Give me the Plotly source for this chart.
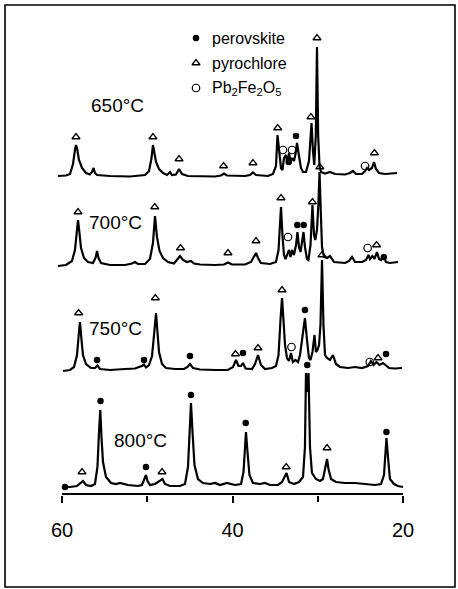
import plotly.graph_objects as go

# ---- diffraction traces: 2-theta (deg) and intensity above each trace's baseline (a.u.) ----
TT_650 = [60.47, 59.53, 59.06, 58.71, 58.48, 58.36, 58.24, 58.01, 57.65, 57.18, 56.72, 56.48, 56.30,
          56.13, 55.89, 54.37, 52.02, 50.26, 49.79, 49.50, 49.33, 49.15, 48.97, 48.62, 48.15, 47.68,
          47.33, 47.10, 46.63, 46.27, 45.92, 45.22, 42.05, 41.35, 41.00, 40.65, 38.53, 37.95, 37.60,
          37.24, 35.84, 35.25, 34.90, 34.72, 34.55, 34.31, 34.14, 33.96, 33.73, 33.55, 33.37, 33.20,
          33.02, 32.79, 32.61, 32.43, 32.20, 31.97, 31.73, 31.38, 31.03, 30.85, 30.73, 30.56, 30.41,
          30.23, 30.09, 29.95, 29.79, 29.62, 29.15, 28.56, 27.98, 26.80, 26.22, 25.87, 25.51, 24.81,
          24.45, 24.22, 23.99, 23.64, 23.40, 23.17, 22.82, 22.11, 21.53, 20.70]
I_650 = [0, 0.5, 2, 12, 26, 31, 28, 16, 8, 3, 1.5, 4, 8,
         3, 1, 0, -0.5, 1, 5, 18, 31, 24, 14, 7, 3, 1,
         4, 1, 1.5, 7, 2, 0, -0.5, 0.5, 2.5, 0.5, 0, 1, 3.5,
         1, 0, 2, 10, 41, 25, 8, 6, 18, 21, 12, 23, 14,
         18, 15, 22, 33, 20, 8, 4, 4, 15, 38, 53, 25, 11,
         40, 129, 40, 10, 4, 2.5, 4, 2, 1.5, 3, 5, 2, 2,
         5, 8, 6, 8, 14, 7, 3, 2, 2.5, 3]

TT_700 = [60.47, 59.53, 58.83, 58.48, 58.24, 58.12, 57.95, 57.77, 57.42, 56.95, 56.36, 56.07, 55.89,
          55.72, 55.43, 54.37, 52.61, 51.79, 51.44, 51.09, 50.26, 49.68, 49.33, 49.09, 48.86, 48.56,
          48.15, 47.57, 46.86, 46.51, 46.16, 45.81, 45.34, 44.87, 44.52, 43.81, 42.05, 41.00, 40.53,
          40.06, 38.53, 37.83, 37.48, 37.24, 37.01, 36.66, 35.60, 34.90, 34.60, 34.43, 34.31, 34.14,
          33.96, 33.78, 33.61, 33.37, 33.20, 33.02, 32.79, 32.55, 32.38, 32.20, 32.02, 31.85, 31.67,
          31.50, 31.26, 31.09, 30.85, 30.62, 30.44, 30.29, 30.09, 29.93, 29.79, 29.65, 29.50, 29.27,
          28.91, 28.56, 28.09, 26.80, 26.33, 25.98, 25.63, 24.81, 24.34, 24.05, 23.87, 23.58, 23.34,
          23.05, 22.82, 22.58, 22.29, 22.00, 21.53, 20.59]
I_700 = [-1, 0, 4, 15, 35, 45, 32, 17, 7, 3, 2, 7, 14,
         7, 2, 0, 0, 1.5, 3, 1, 1, 6, 22, 49, 28, 14,
         7, 3, 1.5, 5, 9, 5, 3, 4, 1.5, 0.5, 0, 0.5, 2.5,
         0.5, 0.5, 3, 8, 12, 7, 2, 1, 3, 15, 40, 58, 30,
         10, 6, 10, 15, 8, 15, 10, 20, 33, 18, 13, 22, 33,
         18, 6, 5, 20, 60, 30, 25, 35, 60, 93, 55, 18, 8,
         7, 9, 3, 2, 4, 8, 3, 3, 5, 10, 6, 9, 6,
         13, 6, 5, 10, 3, 2, 3]

TT_750 = [59.88, 59.06, 58.59, 58.24, 58.01, 57.89, 57.71, 57.54, 57.18, 56.60, 56.13, 55.84, 55.54,
          54.37, 52.61, 51.44, 50.97, 50.62, 50.38, 50.15, 49.79, 49.44, 49.15, 48.97, 48.80, 48.62,
          48.27, 47.80, 46.75, 45.69, 45.28, 44.99, 44.63, 43.81, 42.05, 40.53, 39.94, 39.59, 39.30,
          39.00, 38.77, 38.47, 37.71, 37.36, 37.01, 36.66, 36.19, 35.37, 34.90, 34.60, 34.37, 34.19,
          34.02, 33.84, 33.61, 33.37, 33.14, 32.91, 32.61, 32.32, 32.08, 31.79, 31.50, 31.26, 31.03,
          30.85, 30.62, 30.38, 30.21, 30.03, 29.85, 29.68, 29.50, 29.33, 29.15, 28.91, 28.56, 28.21,
          27.86, 27.39, 26.45, 25.63, 24.81, 24.11, 23.76, 23.46, 23.11, 22.76, 22.35, 22.06, 21.64,
          20.94, 20.12]
I_750 = [-1, 0, 3, 15, 38, 48, 30, 15, 6, 2, 2, 4.5, 1,
         0, 1, 1.5, 3, 4, 5.5, 2.5, 5, 14, 40, 57, 38, 18,
         6, 2, 1, 1, 3, 6, 2, 0.5, 0, 0, 3, 10, 4,
         4, 7, 1.5, 1, 6, 15, 5, 1, 2, 4, 15, 50, 72,
         50, 25, 12, 9, 17, 8, 10, 8, 15, 35, 52, 30, 12,
         10, 18, 35, 18, 20, 25, 45, 110, 45, 15, 12, 10, 15,
         6, 3, 2, 3, 2, 4, 9, 5, 8, 5, 7, 5, 2,
         1.5, 2]

TT_800 = [59.88, 59.06, 58.24, 57.77, 57.54, 57.18, 56.60, 56.13, 55.84, 55.66, 55.51, 55.37, 55.19,
          54.84, 54.25, 53.67, 53.20, 52.26, 51.09, 50.62, 50.32, 50.15, 49.97, 49.68, 49.09, 48.50,
          48.21, 47.92, 47.33, 46.16, 45.57, 45.22, 44.99, 44.87, 44.69, 44.46, 44.05, 43.46, 42.64,
          42.05, 41.47, 40.65, 39.71, 39.00, 38.71, 38.53, 38.42, 38.24, 38.01, 37.60, 36.77, 36.19,
          35.60, 34.66, 34.19, 33.90, 33.66, 33.37, 32.79, 32.20, 31.73, 31.50, 31.38, 31.23, 31.08,
          30.91, 30.68, 30.21, 29.74, 29.39, 29.09, 28.91, 28.74, 28.44, 27.86, 26.80, 25.63, 24.45,
          23.28, 22.58, 22.23, 22.05, 21.94, 21.76, 21.53, 21.06, 20.59, 20.00]
I_800 = [0, 0, 1, 4, 6, 2, 1, 3, 20, 55, 77, 50, 25,
         10, 4, 3, 4, 2, 1, 2, 8, 12, 6, 2, 3, 6,
         8, 3, 1, 1, 3, 20, 60, 84, 55, 22, 8, 4, 3,
         4, 2, 4, 2, 3, 15, 40, 55, 35, 12, 4, 3, 4,
         2, 2, 5, 10, 14, 5, 3, 5, 10, 40, 114, 95, 114,
         40, 14, 8, 6, 8, 20, 28, 18, 8, 5, 4, 4, 3,
         2, 3, 12, 35, 49, 30, 8, 3, 1, 0]

TEMPS = ["650", "700", "750", "800"]
TRACES = {"650": (TT_650, I_650), "700": (TT_700, I_700),
          "750": (TT_750, I_750), "800": (TT_800, I_800)}
# vertical stacking of the four patterns
OFFSET = {"650": 318, "700": 229, "750": 124, "800": 7}

# ---- phase identification marks: 2-theta and height above baseline ----
PEROV_TT = {"650": [32.55, 33.40], "700": [32.40, 31.65, 22.25],
            "750": [55.89, 50.38, 44.99, 38.77, 31.50, 21.99],
            "800": [59.65, 55.48, 50.15, 44.87, 38.45, 31.23, 21.94]}
PEROV_H = {"650": [40, 14], "700": [40, 40, 8],
           "750": [10, 10, 14, 17, 60, 16],
           "800": [0, 86, 20, 92, 64, 122, 55]}
PYRO_TT = {"650": [58.36, 49.33, 46.27, 41.05, 37.60, 34.70, 30.80, 30.09, 23.35],
           "700": [58.12, 49.12, 46.10, 40.53, 37.24, 34.31, 30.62, 29.76, 23.10],
           "750": [58.05, 49.05, 39.65, 37.01, 34.19, 29.50, 22.93],
           "800": [57.65, 48.27, 33.70, 28.91]}
PYRO_H = {"650": [39, 39, 17, 10, 13, 48, 59, 138, 23],
          "700": [53, 58, 17, 12, 24, 67, 63, 98, 20],
          "750": [57, 72, 16, 22, 80, 115, 12],
          "800": [15, 15, 20, 39]}
PBFE_TT = {"650": [34.08, 33.02, 24.45], "700": [33.49, 24.15], "750": [33.08, 23.90], "800": []}
PBFE_H = {"650": [26, 26, 10], "700": [28, 17], "750": [23, 8], "800": []}

PHASE_NAMES = ["perovskite", "pyrochlore", "Pb<sub>2</sub>Fe<sub>2</sub>O<sub>5</sub>"]
TEMP_LABELS = ["650°C", "700°C", "750°C", "800°C"]
TICK_VALS = [60, 40, 20]
TICK_TEXT = ["60", "40", "20"]
MINOR_TICK_VALS = [50, 30]
AXIS_TITLE = "<--2θ"

FONT = "Liberation Sans, Arial, Helvetica, sans-serif"
INK = "black"

DOT = dict(symbol="circle", size=6.5, color=INK, line=dict(width=0))
TRI = dict(symbol="triangle-up-open", size=7, color=INK, line=dict(width=1.3, color=INK))
RING = dict(symbol="circle-open", size=7.5, color=INK, line=dict(width=1.2, color=INK))

fig = go.Figure()

for t in TEMPS:
    tt, inten = TRACES[t]
    off = OFFSET[t]
    fig.add_trace(go.Scatter(x=tt, y=[v + off for v in inten], mode="lines",
                             line=dict(color=INK, width=2.2), hoverinfo="skip", showlegend=False))
    for xs, hs, mk in ((PEROV_TT[t], PEROV_H[t], DOT), (PYRO_TT[t], PYRO_H[t], TRI),
                       (PBFE_TT[t], PBFE_H[t], RING)):
        if xs:
            fig.add_trace(go.Scatter(x=xs, y=[h + off for h in hs], mode="markers",
                                     marker=mk, hoverinfo="skip", showlegend=False,
                                     cliponaxis=False))

# key of phase symbols
KEY_X, KEY_TEXT_X = 44.28, 42.64
KEY_Y = [456, 431, 406]
for y, mk, name in zip(KEY_Y, (DOT, TRI, RING), PHASE_NAMES):
    fig.add_trace(go.Scatter(x=[KEY_X], y=[y], mode="markers", marker=mk,
                             hoverinfo="skip", showlegend=False))
    fig.add_annotation(x=KEY_TEXT_X, y=y, text=name, showarrow=False, xanchor="left",
                       yanchor="middle", font=dict(family=FONT, size=16, color=INK))

# temperature captions
CAP_POS = {"650": (53.49, 389), "700": (53.72, 272), "750": (53.72, 166), "800": (50.79, 54)}
for t, lab in zip(TEMPS, TEMP_LABELS):
    cx, cy = CAP_POS[t]
    fig.add_annotation(x=cx, y=cy, text=lab, showarrow=False, xanchor="center", yanchor="middle",
                       font=dict(family=FONT, size=19, color=INK))

fig.add_annotation(x=41.4, y=-66, text=AXIS_TITLE, showarrow=False, xanchor="center",
                   yanchor="middle", font=dict(family=FONT, size=19, color=INK))

# base line of the 2-theta scale
fig.add_shape(type="line", x0=60, x1=20, y0=0, y1=0, xref="x", yref="y",
              line=dict(color=INK, width=2))
# outer frame
fig.add_shape(type="rect", xref="paper", yref="paper", x0=-0.1416, x1=1.1331, y0=-0.190, y1=1.0124,
              line=dict(color=INK, width=1.6), fillcolor="rgba(0,0,0,0)")

fig.update_xaxes(range=[60.821, 19.413], tickvals=TICK_VALS, ticktext=TICK_TEXT, ticks="outside",
                 ticklen=7, tickwidth=1.6, tickcolor=INK, showline=False, showgrid=False,
                 zeroline=False, tickfont=dict(family=FONT, size=20, color=INK),
                 ticklabelstandoff=10,
                 minor=dict(tickvals=MINOR_TICK_VALS, ticks="outside", ticklen=6,
                            tickwidth=1.6, tickcolor=INK, showgrid=False))
fig.update_yaxes(range=[-1, 483], visible=False, showgrid=False, zeroline=False)

fig.update_layout(width=458, height=589, margin=dict(l=55, r=50, t=11, b=94),
                  paper_bgcolor="white", plot_bgcolor="white", showlegend=False)

fig.write_html("out.html")
